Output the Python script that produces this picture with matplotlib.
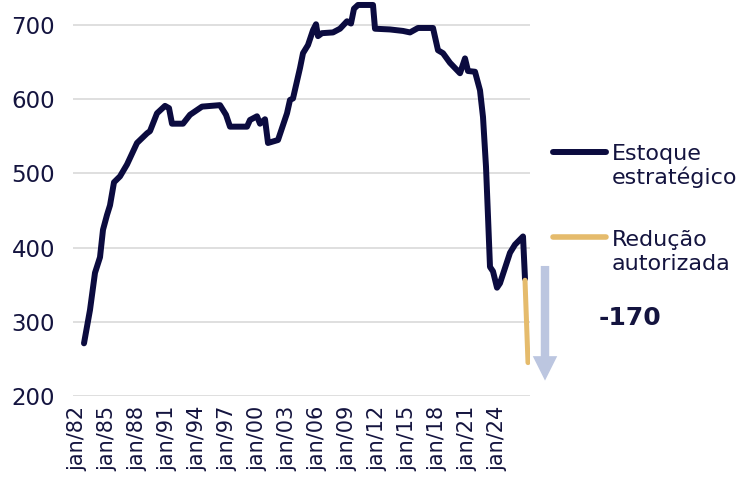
import matplotlib.pyplot as plt
from matplotlib.lines import Line2D

# Estoque estrategico (milhoes de barris), posicao no eixo em anos
years = [1982.7, 1983.3, 1983.8, 1984.3, 1984.6, 1985.0, 1985.3, 1985.7,
         1986.3, 1987.0, 1988.0, 1989.0, 1989.3, 1990.0, 1990.8, 1991.2,
         1991.5, 1992.6, 1993.3, 1994.5, 1996.3, 1996.9, 1997.3, 1999.0,
         1999.3, 2000.0, 2000.3, 2000.8, 2001.1, 2002.1, 2003.0, 2003.3,
         2003.6, 2004.3, 2004.6, 2005.1, 2005.6, 2005.9, 2006.1, 2006.5,
         2007.6, 2008.3, 2009.0, 2009.4, 2009.7, 2010.1, 2011.6, 2011.8,
         2013.3, 2014.6, 2015.3, 2016.1, 2017.6, 2018.1, 2018.6, 2019.3,
         2020.3, 2020.8, 2021.1, 2021.8, 2022.1, 2022.3, 2022.6, 2022.9,
         2023.1, 2023.3, 2023.6, 2024.0, 2024.3, 2025.3, 2025.8, 2026.6,
         2026.8]
stock = [271, 316, 366, 387, 424, 444, 457, 488,
         496, 512, 541, 554, 557, 581, 591, 588,
         567, 567, 579, 590, 592, 579, 563, 563,
         572, 577, 567, 573, 541, 545, 581, 599,
         601, 642, 662, 673, 693, 701, 685, 689,
         690, 695, 705, 702, 722, 727, 727, 695,
         694, 692, 690, 696, 696, 666, 662, 649,
         635, 655, 638, 637, 622, 612, 576, 509,
         442, 374, 368, 346, 352, 393, 404, 415,
         358]

# Reducao autorizada
cut_years = [2026.8, 2027.1]
cut_values = [356, 245]
cut_label = "-170"

tick_years = list(range(1982, 2025, 3))
tick_labels = [f"jan/{y % 100:02d}" for y in tick_years]

navy = "#0b0b3f"
gold = "#e5bb6c"
text_color = "#14143f"

plt.rcParams["font.family"] = ["DejaVu Sans"]

fig = plt.figure(figsize=(7.47, 4.88), dpi=100)
ax = fig.add_axes([73 / 747, 92 / 488, 457 / 747, 396 / 488])

ax.plot(years, stock, color=navy, lw=4.3, solid_capstyle="round",
        solid_joinstyle="round", zorder=3)
ax.plot(cut_years, cut_values, color=gold, lw=3.6, solid_capstyle="round",
        zorder=4)

ax.set_xlim(1981.6, 2027.3)
ax.set_ylim(200, 733.7)
ax.set_yticks([200, 300, 400, 500, 600, 700])
ax.set_xticks(tick_years)
ax.set_xticklabels(tick_labels, rotation=90)
ax.grid(axis="y", color="#d9d9d9", lw=1.2)
ax.set_axisbelow(True)
for s in ax.spines.values():
    s.set_visible(False)
ax.tick_params(axis="y", length=0, pad=13, labelsize=16.5, labelcolor=text_color)
ax.tick_params(axis="x", length=0, pad=7, labelsize=15, labelcolor=text_color)

# seta da reducao
ax.annotate("", xy=(2028.8, 217), xytext=(2028.8, 379),
            arrowprops=dict(arrowstyle="simple,head_width=1.1,head_length=1.1,tail_width=0.38",
                            color="#bcc6e0", lw=0, mutation_scale=16),
            annotation_clip=False)
ax.text(2037.3, 305, cut_label, fontsize=18, fontweight="bold",
        color=text_color, ha="center", va="center", clip_on=False)

# legenda
fig.add_artist(Line2D([553 / 747, 606 / 747], [1 - 152 / 488, 1 - 152 / 488],
                      color=navy, lw=4.3, solid_capstyle="round"))
fig.add_artist(Line2D([553 / 747, 606 / 747], [1 - 237 / 488, 1 - 237 / 488],
                      color=gold, lw=4.0, solid_capstyle="round"))
fig.text(612 / 747, 1 - 166 / 488, "Estoque\nestratégico", fontsize=16,
         color=text_color, va="center", ha="left", linespacing=1.2)
fig.text(612 / 747, 1 - 252 / 488, "Redução\nautorizada", fontsize=16,
         color=text_color, va="center", ha="left", linespacing=1.2)

fig.savefig("out.png", dpi=100)
